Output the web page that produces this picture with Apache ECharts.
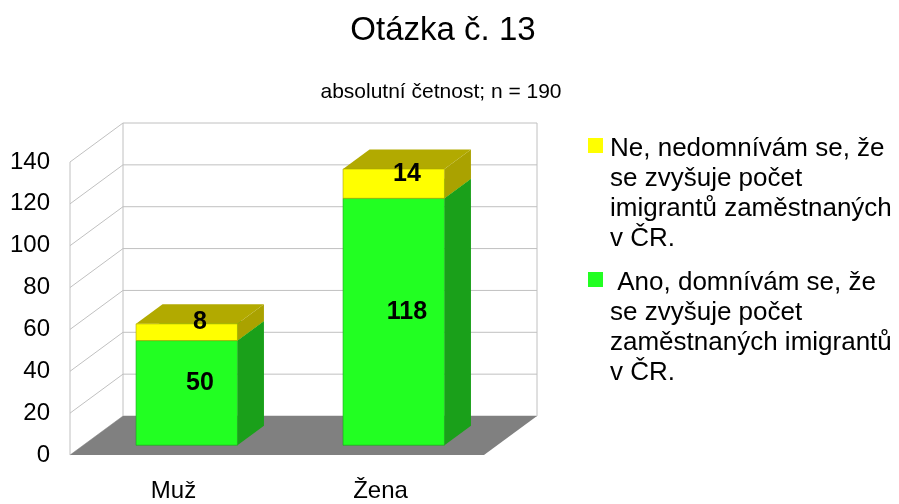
<!DOCTYPE html>
<html>
<head>
<meta charset="utf-8">
<script src="https://cdn.jsdelivr.net/npm/echarts@6/dist/echarts.min.js"></script>
<style>
html, body { margin: 0; padding: 0; background: #fff; }
#chart { width: 899px; height: 504px; }
</style>
</head>
<body>
<div id="chart"></div>
<script>
const categories = ["Muž", "Žena"];
const anoValues = [50, 118];
const neValues = [8, 14];
const neName = "Ne, nedomnívám se, že\nse zvyšuje počet\nimigrantů zaměstnaných\nv ČR.";
const anoName = " Ano, domnívám se, že\nse zvyšuje počet\nzaměstnaných imigrantů\nv ČR.";
const yTicks = [0, 20, 40, 60, 80, 100, 120, 140];

const FONT = "'Liberation Sans', Arial, sans-serif";
// depth of the 3d box (back wall offset from the front plane)
const DX = 53, DY = -39;

function drawWalls(params, api) {
    const cs = params.coordSys;
    const x0 = cs.x, x1 = cs.x + cs.width;
    const yTop = api.coord([0, yTicks[yTicks.length - 1]])[1];
    const yBot = api.coord([0, 0])[1];
    const line = { stroke: "#c0c0c0", lineWidth: 1 };
    const children = [];
    yTicks.forEach(function (t) {
        const y = api.coord([0, t])[1];
        children.push({ type: "line", shape: { x1: x0, y1: y, x2: x0 + DX, y2: y + DY }, style: line });
        children.push({ type: "line", shape: { x1: x0 + DX, y1: y + DY, x2: x1 + DX, y2: y + DY }, style: line });
    });
    children.push({ type: "line", shape: { x1: x0, y1: yTop, x2: x0, y2: yBot }, style: line });
    children.push({ type: "line", shape: { x1: x0 + DX, y1: yTop + DY, x2: x0 + DX, y2: yBot + DY }, style: line });
    children.push({ type: "line", shape: { x1: x1 + DX, y1: yTop + DY, x2: x1 + DX, y2: yBot + DY }, style: line });
    // floor
    children.push({
        type: "polygon",
        shape: { points: [[x0, yBot], [x1, yBot], [x1 + DX, yBot + DY], [x0 + DX, yBot + DY]] },
        style: { fill: "#808080" }
    });
    return { type: "group", children: children };
}

function barRenderer(front, side, top) {
    return function (params, api) {
        const i = api.value(0);
        const lo = api.value(1), hi = api.value(2);
        const w = api.size([1, 0])[0] * 0.49;
        const b = api.coord([i, lo]);
        const t = api.coord([i, hi]);
        const fx0 = b[0] - w / 2 + DX * 0.25, fx1 = fx0 + w;
        const fyB = b[1] + DY * 0.25, fyT = t[1] + DY * 0.25;
        const hx = DX * 0.5, hy = DY * 0.5;
        return {
            type: "group",
            children: [
                {
                    type: "polygon",
                    shape: { points: [[fx1, fyB], [fx1 + hx, fyB + hy], [fx1 + hx, fyT + hy], [fx1, fyT]] },
                    style: { fill: side }
                },
                {
                    type: "polygon",
                    shape: { points: [[fx0, fyT], [fx1, fyT], [fx1 + hx, fyT + hy], [fx0 + hx, fyT + hy]] },
                    style: { fill: top }
                },
                {
                    type: "rect",
                    shape: { x: fx0, y: fyT, width: w, height: fyB - fyT },
                    style: { fill: front, stroke: side, lineWidth: 0.6 }
                },
                {
                    type: "text",
                    style: {
                        text: String(hi - lo),
                        x: (fx0 + fx1) / 2 + hx / 2,
                        y: (fyB + fyT) / 2 + hy / 2,
                        align: "center",
                        verticalAlign: "middle",
                        font: "bold 25px " + FONT,
                        fill: "#000"
                    }
                }
            ]
        };
    };
}

const anoData = categories.map(function (c, i) { return [i, 0, anoValues[i]]; });
const neData = categories.map(function (c, i) { return [i, anoValues[i], anoValues[i] + neValues[i]]; });

const myChart = echarts.init(document.getElementById("chart"));
const option = {
    animation: false,
    title: [
        {
            text: "Otázka č. 13",
            left: 438, top: 9, textAlign: "center",
            textStyle: { fontFamily: FONT, fontSize: 33, fontWeight: "normal", color: "#000" }
        },
        {
            text: "absolutní četnost; n = 190",
            left: 436, top: 77, textAlign: "center",
            textStyle: { fontFamily: FONT, fontSize: 21, fontWeight: "normal", color: "#000" }
        }
    ],
    grid: { left: 70, right: 415, top: 162, bottom: 49 },
    xAxis: {
        type: "category",
        data: categories,
        axisLine: { show: false },
        axisTick: { show: false },
        axisLabel: { margin: 24, fontFamily: FONT, fontSize: 24, color: "#000" }
    },
    yAxis: {
        type: "value",
        min: 0, max: 140, interval: 20,
        axisLine: { show: false },
        axisTick: { show: false },
        splitLine: { show: false },
        axisLabel: { margin: 20, fontFamily: FONT, fontSize: 24, color: "#000" }
    },
    graphic: [
        { type: "rect", left: 588, top: 138, shape: { width: 15, height: 15 }, style: { fill: "#ffff00" } },
        {
            type: "text", left: 610, top: 134,
            style: { text: neName, font: "26px " + FONT, lineHeight: 30, fill: "#000" }
        },
        { type: "rect", left: 588, top: 272, shape: { width: 15, height: 15 }, style: { fill: "#22ff22" } },
        {
            type: "text", left: 610, top: 268,
            style: { text: anoName, font: "26px " + FONT, lineHeight: 30, fill: "#000" }
        }
    ],
    series: [
        {
            type: "custom",
            name: "walls",
            silent: true,
            clip: false,
            renderItem: drawWalls,
            data: [[0, 0]],
            encode: { x: 0, y: 1 }
        },
        {
            type: "custom",
            name: anoName,
            clip: false,
            renderItem: barRenderer("#22ff22", "#1aa01a", "#18c818"),
            data: anoData,
            encode: { x: 0, y: [1, 2] }
        },
        {
            type: "custom",
            name: neName,
            clip: false,
            renderItem: barRenderer("#ffff00", "#aaa200", "#b2aa00"),
            data: neData,
            encode: { x: 0, y: [1, 2] }
        }
    ]
};
myChart.setOption(option);
window.addEventListener("resize", function () {
    myChart.resize();
});
</script>
</body>
</html>
